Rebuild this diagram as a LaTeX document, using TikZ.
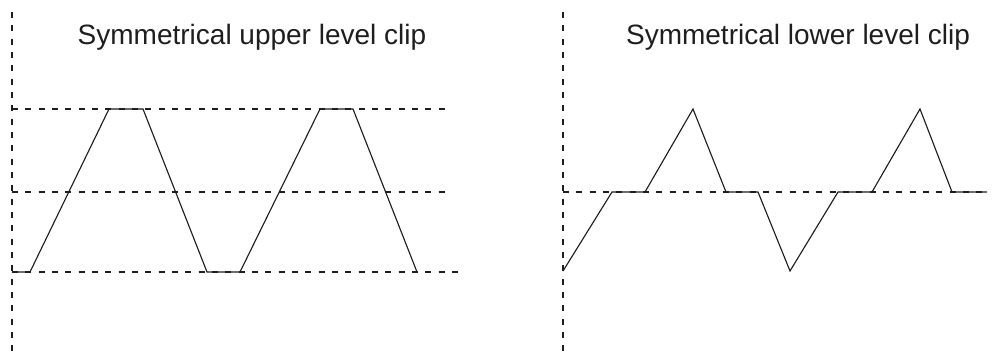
\documentclass[tikz,border=0pt]{standalone}
\usepackage{fontspec}
\setmainfont{Liberation Sans}
\usepackage{xcolor}
\definecolor{inkgrey}{RGB}{30,30,30}

\begin{document}
\begin{tikzpicture}[
      x=0.75pt, y=0.75pt,
      guide/.style={draw=inkgrey, line width=0.9pt, dash pattern=on 4.5pt off 5.5pt},
      wave/.style={draw=inkgrey, line width=0.85pt, line join=miter},
      title/.style={anchor=base, inner sep=0pt, text=inkgrey,
                  font=\fontsize{21}{24}\selectfont}
    ]
    \useasboundingbox (0,0) rectangle (992,352);

    % upper level clip
    \node[title] (uppertitle) at (252,307) {Symmetrical upper level clip};
    \coordinate (uaxtop) at (12,340);
    \coordinate (uaxbot) at (12,0);
    \draw[guide] (uaxtop) -- (uaxbot);
    \draw[guide] (12,243) -- (450,243);
    \draw[guide] (12,160) -- (450,160);
    \draw[guide] (12,80) -- (465,80);
    \draw[wave] (12,80) -- (30,80) -- (109,243) -- (143,243) -- (207,80)
                -- (240,80) -- (320,243) -- (353,243) -- (417,80);

    % lower level clip
    \node[title] (lowertitle) at (798,307) {Symmetrical lower level clip};
    \coordinate (laxtop) at (563,340);
    \coordinate (laxbot) at (563,0);
    \draw[guide] (laxtop) -- (laxbot);
    \draw[guide] (563,160) -- (987,160);
    \draw[wave] (563,81) -- (612,160) -- (645,160) -- (693,243) -- (726,160)
                -- (758,160) -- (790,81) -- (838,160) -- (872,160) -- (920,243)
                -- (952,160) -- (987,160);
  \end{tikzpicture}
\end{document}
